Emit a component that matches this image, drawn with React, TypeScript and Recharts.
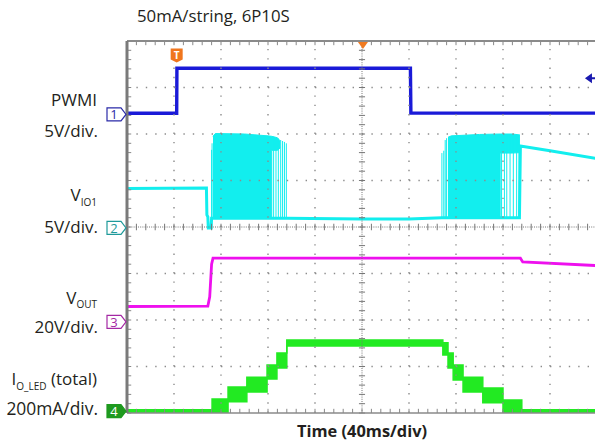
import React from 'react';
import { ComposedChart, Line, Area, XAxis, YAxis, ReferenceLine, ReferenceDot } from 'recharts';

// Units: x in time divisions (0..10), y in vertical divisions (0..8)
const pwmiX = [0, 1.057, 1.062, 6.03, 6.04, 10];
const pwmiY = [6.445, 6.445, 7.413, 7.413, 6.45, 6.45];

const vioX = [0, 1.69, 1.70, 1.72, 1.73, 1.79, 1.80, 3.4, 5.0, 6.0, 6.7, 8.35, 8.37, 9.0, 10];
const vioY = [4.83, 4.84, 4.26, 4.22, 3.98, 3.98, 4.19, 4.19, 4.17, 4.17, 4.2, 4.2, 5.74, 5.64, 5.47];

const burst1X = [1.83, 1.88, 2.5, 3.0, 3.08, 3.08, 3.2, 3.26];
const burst1Lo = [4.19, 4.19, 4.19, 4.19, 4.19, 5.65, 5.65, 5.7];
const burst1Hi = [5.95, 6.01, 6.0, 5.96, 5.95, 5.95, 5.92, 5.85];
const spike1X = [1.80, 1.81, 3.12, 3.17, 3.22, 3.27, 3.31, 3.35, 3.39];
const spike1Top = [5.66, 5.8, 5.94, 5.92, 5.9, 5.87, 5.85, 5.83, 5.8];

const burst2X = [6.83, 6.9, 7.5, 7.94, 7.94, 8.2, 8.36];
const burst2Lo = [4.2, 4.2, 4.2, 4.2, 5.59, 5.59, 5.6];
const burst2Hi = [5.93, 5.96, 5.99, 6.0, 6.0, 6.0, 5.98];
const spike2X = [6.70, 6.74, 6.77, 6.80, 7.97, 8.03, 8.08, 8.15, 8.22, 8.29, 8.34];
const spike2Top = [5.59, 5.64, 5.87, 5.91, 5.99, 5.99, 5.98, 5.98, 5.98, 5.97, 5.96];

const voutX = [0, 1.72, 1.76, 1.80, 1.83, 8.37, 8.42, 10];
const voutY = [2.29, 2.30, 2.5, 3.2, 3.33, 3.33, 3.25, 3.17];

// Green staircase: band start x, low, high (step after)
const ioX = [0, 1.81, 2.15, 2.55, 2.98, 3.19, 3.40, 6.72, 6.83, 6.94, 7.15, 7.57, 8.0, 8.40, 10];
const ioLo = [0.0, 0.0, 0.24, 0.45, 0.73, 0.97, 1.44, 1.25, 0.97, 0.71, 0.45, 0.22, 0.0, 0.0, 0.0];
const ioHi = [0.07, 0.30, 0.56, 0.77, 1.03, 1.29, 1.57, 1.51, 1.29, 1.03, 0.77, 0.54, 0.28, 0.07, 0.07];

const gridX = [1, 2, 3, 4, 6, 7, 8, 9];
const gridY = [1, 2, 3, 5, 6, 7];
const minorX = Array.from({ length: 51 }, (_, i) => i * 0.2);
const minorY = Array.from({ length: 41 }, (_, i) => i * 0.2);

const pwmiData = pwmiX.map((x, i) => ({ x, y: pwmiY[i] }));
const vioData = vioX.map((x, i) => ({ x, y: vioY[i] }));
const burst1Data = burst1X.map((x, i) => ({ x, r: [burst1Lo[i], burst1Hi[i]] }));
const burst2Data = burst2X.map((x, i) => ({ x, r: [burst2Lo[i], burst2Hi[i]] }));
const voutData = voutX.map((x, i) => ({ x, y: voutY[i] }));
const ioData = ioX.map((x, i) => ({ x, r: [ioLo[i], ioHi[i]] }));

const BLUE = '#1a1ad8';
const CYAN = '#12eeee';
const MAG = '#ee10ee';
const GREEN = '#22ea22';
const GRID = '#8c8c8c';

const chMarker = (label: string, color: string, filled: boolean) => (p: any) => {
  const { cx, cy } = p;
  const x0 = cx - 20, x1 = cx - 6;
  return (
    <g>
      <path d={`M${x0},${cy - 6.5} L${x1},${cy - 6.5} L${cx - 1},${cy} L${x1},${cy + 6.5} L${x0},${cy + 6.5} Z`}
        fill={filled ? color : '#fff'} stroke={color} strokeWidth={1.2} />
      <text x={x0 + 7} y={cy + 5} textAnchor="middle" fontFamily="'Open Sans', sans-serif" fontSize={13}
        fill={filled ? '#fff' : color}>{label}</text>
    </g>
  );
};

const trigShape = (p: any) => {
  const { cx, cy } = p;
  return (
    <g>
      <path d={`M${cx - 6},${cy - 7} L${cx + 6},${cy - 7} L${cx + 6},${cy + 4} L${cx},${cy + 7} L${cx - 6},${cy + 4} Z`} fill="#f0761e" />
      <text x={cx} y={cy + 3.5} textAnchor="middle" fontFamily="'Open Sans', sans-serif" fontWeight={700} fontSize={10} fill="#fff">T</text>
    </g>
  );
};

const topTri = (p: any) => {
  const { cx, cy } = p;
  return <path d={`M${cx - 5},${cy} L${cx + 5},${cy} L${cx},${cy + 7} Z`} fill="#f07a20" />;
};

const leftArrow = (p: any) => {
  const { cx, cy } = p;
  return <path d={`M${cx - 5},${cy} L${cx + 2},${cy - 5} L${cx + 2},${cy - 1} L${cx + 6},${cy - 1} L${cx + 6},${cy + 1} L${cx + 2},${cy + 1} L${cx + 2},${cy + 5} Z`} fill="#1a1ab0" />;
};

const FONT = "'Open Sans', sans-serif";

export default function App() {
  return (
    <div style={{ position: 'absolute', left: 0, top: 0, width: 595, height: 441, overflow: 'hidden', background: '#fff' }}>
      <ComposedChart width={597} height={441} margin={{ top: 41, right: 0, bottom: 28, left: 127 }}>
        <XAxis type="number" dataKey="x" domain={[0, 10]} hide allowDataOverflow />
        <YAxis type="number" domain={[0, 8]} hide allowDataOverflow />

        <Area data={burst1Data} dataKey="r" type="linear" stroke={CYAN} strokeWidth={1} fill={CYAN} fillOpacity={1} isAnimationActive={false} />
        <Area data={burst2Data} dataKey="r" type="linear" stroke={CYAN} strokeWidth={1} fill={CYAN} fillOpacity={1} isAnimationActive={false} />
        <Area data={ioData} dataKey="r" type="stepAfter" stroke={GREEN} strokeWidth={1.5} fill={GREEN} fillOpacity={1} isAnimationActive={false} />
        <Line data={vioData} dataKey="y" type="linear" stroke={CYAN} strokeWidth={3} dot={false} isAnimationActive={false} />
        <Line data={voutData} dataKey="y" type="linear" stroke={MAG} strokeWidth={2.8} dot={false} isAnimationActive={false} />
        <Line data={pwmiData} dataKey="y" type="linear" stroke={BLUE} strokeWidth={3.4} dot={false} isAnimationActive={false} />

        {spike1X.map((x, i) => (
          <ReferenceLine key={'s1' + i} segment={[{ x, y: 4.19 }, { x, y: spike1Top[i] }]} stroke={CYAN} strokeWidth={1} ifOverflow="visible" />
        ))}
        {spike2X.map((x, i) => (
          <ReferenceLine key={'s2' + i} segment={[{ x, y: 4.2 }, { x, y: spike2Top[i] }]} stroke={CYAN} strokeWidth={1} ifOverflow="visible" />
        ))}

        {gridX.map((g) => (
          <ReferenceLine key={'gx' + g} x={g} stroke={GRID} strokeWidth={1.4} strokeDasharray="1.4 7.9" />
        ))}
        {gridY.map((g) => (
          <ReferenceLine key={'gy' + g} y={g} stroke={GRID} strokeWidth={1.4} strokeDasharray="1.4 8" />
        ))}
        <ReferenceLine x={5} stroke="#777" strokeWidth={1} strokeDasharray="1 1.2" />
        <ReferenceLine y={4} stroke="#777" strokeWidth={1} strokeDasharray="1 1.2" />
        {minorX.map((t, i) => (
          <ReferenceLine key={'cx' + i} segment={[{ x: t, y: 3.93 }, { x: t, y: 4.07 }]} stroke="#777" strokeWidth={1} />
        ))}
        {minorY.map((t, i) => (
          <ReferenceLine key={'cy' + i} segment={[{ x: 4.935, y: t }, { x: 5.065, y: t }]} stroke="#777" strokeWidth={1} />
        ))}
        {minorX.map((t, i) => (
          <ReferenceLine key={'tx' + i} segment={[{ x: t, y: 8 }, { x: t, y: 7.91 }]} stroke="#888" strokeWidth={1} />
        ))}
        {minorX.map((t, i) => (
          <ReferenceLine key={'bx' + i} segment={[{ x: t, y: 0 }, { x: t, y: 0.09 }]} stroke="#888" strokeWidth={1} />
        ))}
        {minorY.map((t, i) => (
          <ReferenceLine key={'ly' + i} segment={[{ x: 0, y: t }, { x: 0.09, y: t }]} stroke="#888" strokeWidth={1} />
        ))}
        <ReferenceLine y={8} stroke="#8a8a8a" strokeWidth={2} ifOverflow="visible" />
        <ReferenceLine y={0} stroke="#8a8a8a" strokeWidth={1.5} ifOverflow="visible" />
        <ReferenceLine x={0} stroke="#7a7a7a" strokeWidth={3} ifOverflow="visible" />

        <ReferenceDot x={0} y={6.42} ifOverflow="visible" shape={chMarker('1', '#2a2aa8', false)} />
        <ReferenceDot x={0} y={3.98} ifOverflow="visible" shape={chMarker('2', '#1f9a9a', false)} />
        <ReferenceDot x={0} y={1.96} ifOverflow="visible" shape={chMarker('3', '#a428a4', false)} />
        <ReferenceDot x={0} y={0.04} ifOverflow="visible" shape={chMarker('4', '#1f9a1f', true)} />
        <ReferenceDot x={1.057} y={7.69} ifOverflow="visible" shape={trigShape} />
        <ReferenceDot x={5.02} y={7.98} ifOverflow="visible" shape={topTri} />
        <ReferenceDot x={9.85} y={7.2} ifOverflow="visible" shape={leftArrow} />
      </ComposedChart>

      <svg width={595} height={441} style={{ position: 'absolute', left: 0, top: 0, pointerEvents: 'none' }}>
        <g fontFamily={FONT} fill="#231f20">
          <text x={137} y={22} fontSize={16.8}>50mA/string, 6P10S</text>
          <text x={97} y={106} fontSize={17} textAnchor="end">PWMI</text>
          <text x={98} y={137} fontSize={17} textAnchor="end">5V/div.</text>
          <text x={97} y={201} fontSize={17} textAnchor="end">V<tspan fontSize={10} dy={5}>IO1</tspan></text>
          <text x={98} y={233} fontSize={17} textAnchor="end">5V/div.</text>
          <text x={97} y={304} fontSize={17} textAnchor="end">V<tspan fontSize={10} dy={4}>OUT</tspan></text>
          <text x={98} y={333} fontSize={17} textAnchor="end">20V/div.</text>
          <text x={97} y={385} fontSize={17} textAnchor="end">I<tspan fontSize={10} dy={5}>O_LED</tspan><tspan dy={-5}> (total)</tspan></text>
          <text x={98} y={415} fontSize={17.4} textAnchor="end">200mA/div.</text>
          <text x={362} y={437} fontSize={16.4} fontWeight={700} textAnchor="middle">Time (40ms/div)</text>
        </g>
      </svg>
    </div>
  );
}
